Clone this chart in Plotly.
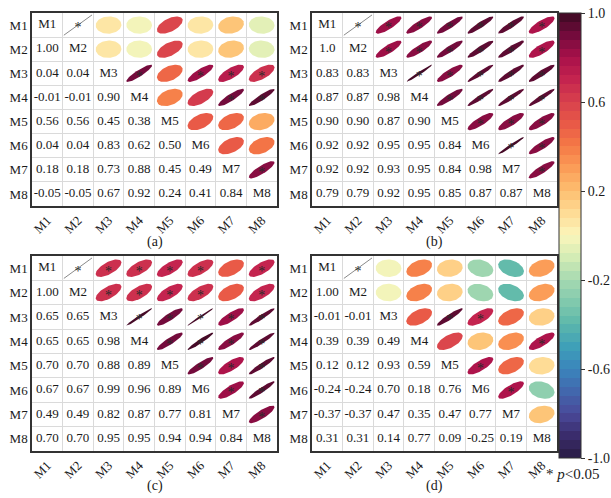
import numpy as np
import plotly.graph_objects as go
from plotly.colors import sample_colorscale

labels = ["M1", "M2", "M3", "M4", "M5", "M6", "M7", "M8"]

# lower-triangle values (row i, columns 0..i-1), as printed
a_lower = [[], ["1.00"], ["0.04", "0.04"], ["-0.01", "-0.01", "0.90"],
           ["0.56", "0.56", "0.45", "0.38"], ["0.04", "0.04", "0.83", "0.62", "0.50"],
           ["0.18", "0.18", "0.73", "0.88", "0.45", "0.49"],
           ["-0.05", "-0.05", "0.67", "0.92", "0.24", "0.41", "0.84"]]
b_lower = [[], ["1.0"], ["0.83", "0.83"], ["0.87", "0.87", "0.98"],
           ["0.90", "0.90", "0.87", "0.90"], ["0.92", "0.92", "0.95", "0.95", "0.84"],
           ["0.92", "0.92", "0.93", "0.95", "0.84", "0.98"],
           ["0.79", "0.79", "0.92", "0.95", "0.85", "0.87", "0.87"]]
c_lower = [[], ["1.00"], ["0.65", "0.65"], ["0.65", "0.65", "0.98"],
           ["0.70", "0.70", "0.88", "0.89"], ["0.67", "0.67", "0.99", "0.96", "0.89"],
           ["0.49", "0.49", "0.82", "0.87", "0.77", "0.81"],
           ["0.70", "0.70", "0.95", "0.95", "0.94", "0.94", "0.84"]]
d_lower = [[], ["1.00"], ["-0.01", "-0.01"], ["0.39", "0.39", "0.49"],
           ["0.12", "0.12", "0.93", "0.59"], ["-0.24", "-0.24", "0.70", "0.18", "0.76"],
           ["-0.37", "-0.37", "0.47", "0.35", "0.47", "0.77"],
           ["0.31", "0.31", "0.14", "0.77", "0.09", "-0.25", "0.19"]]

# significant pairs (p<0.05)
a_sig = [("M1", "M2"), ("M3", "M4"), ("M3", "M6"), ("M3", "M7"), ("M3", "M8"),
         ("M4", "M7"), ("M4", "M8"), ("M7", "M8")]
b_sig = [(labels[i], labels[j]) for i in range(8) for j in range(i + 1, 8)]
c_sig = [(labels[i], labels[j]) for i in range(8) for j in range(i + 1, 8)
         if (labels[i], labels[j]) not in [("M1", "M7"), ("M2", "M7")]]
d_sig = [("M1", "M2"), ("M3", "M5"), ("M3", "M6"), ("M4", "M8"), ("M5", "M6"), ("M6", "M7")]

panel_names = ["(a)", "(b)", "(c)", "(d)"]
cbar_ticks = [-1.0, -0.6, -0.2, 0.2, 0.6, 1.0]

# continuous colour definition (value -> colour)
stops = [(-1.0, "#2a1c44"), (-0.9, "#3a2c6c"), (-0.8, "#4a4a9a"), (-0.7, "#4267ad"),
         (-0.6, "#3a85bc"), (-0.5, "#3fa0b8"), (-0.4, "#5cb7ab"), (-0.3, "#80c9ad"),
         (-0.2, "#a6d9b1"), (-0.1, "#d3ecb5"), (0.0, "#fbf6bb"), (0.1, "#fedc96"),
         (0.2, "#fdbf70"), (0.3, "#fb9d58"), (0.4, "#f57a46"), (0.5, "#e95a47"),
         (0.6, "#d8414d"), (0.7, "#c4244f"), (0.8, "#a8104a"), (0.9, "#740b3c"),
         (1.0, "#3a0a22")]
cont_scale = [[(v + 1) / 2, c] for v, c in stops]
NB = 50
band_cols = sample_colorscale(cont_scale, [(k + 0.5) / NB for k in range(NB)])
disc_scale = []
for k in range(NB):
    disc_scale.append([k / NB, band_cols[k]])
    disc_scale.append([(k + 1) / NB, band_cols[k]])


def colour(r):
    k = min(int((r + 1) / 2 * NB), NB - 1)
    return band_cols[max(k, 0)]


W, H = 611, 498
boxes = [(32, 277, 13, 206), (312, 557, 13, 206), (32, 277, 256, 451), (312, 557, 256, 451)]
panels = [(a_lower, a_sig), (b_lower, b_sig), (c_lower, c_sig), (d_lower, d_sig)]

fig = go.Figure()
SX, SY = 0.42, 0.36
t = np.linspace(0, 2 * np.pi, 73)
FONT = "Liberation Serif"

for p, ((lower, sig), (l, r_, t_, b_)) in enumerate(zip(panels, boxes)):
    ax = "" if p == 0 else str(p + 1)
    xa, ya = "x" + ax, "y" + ax
    # ellipses (upper triangle)
    for i in range(8):
        for j in range(i + 1, 8):
            rv = float(lower[j][i])
            ci, cj = i + 1, j + 1
            if abs(rv) >= 0.999:
                fig.add_trace(go.Scatter(x=[cj - 0.46, cj + 0.46],
                                         y=[ci + 0.42 * np.sign(rv), ci - 0.42 * np.sign(rv)],
                                         mode="lines", line=dict(color="#8a8a8a", width=1),
                                         xaxis=xa, yaxis=ya, showlegend=False, hoverinfo="skip"))
            else:
                A, B = np.sqrt(1 + rv), np.sqrt(1 - rv)
                u = (A * np.cos(t) + B * np.sin(t)) / np.sqrt(2)
                v = (A * np.cos(t) - B * np.sin(t)) / np.sqrt(2)
                fig.add_trace(go.Scatter(x=cj + SX * u, y=ci - SY * v, mode="lines", fill="toself",
                                         fillcolor=colour(rv), line=dict(width=0, color=colour(rv)),
                                         xaxis=xa, yaxis=ya, showlegend=False, hoverinfo="skip"))
    # stars
    sx_, sy_ = [], []
    for (m1, m2) in sig:
        sx_.append(labels.index(m2) + 1)
        sy_.append(labels.index(m1) + 1 + 0.16)
    fig.add_trace(go.Scatter(x=sx_, y=sy_, mode="text", text=["*"] * len(sx_),
                             textfont=dict(family=FONT, size=14, color="#2a2a2a"),
                             xaxis=xa, yaxis=ya, showlegend=False, hoverinfo="skip"))
    # lower values + diagonal labels
    tx, ty, tt = [], [], []
    for i in range(8):
        for j, s in enumerate(lower[i]):
            tx.append(j + 1); ty.append(i + 1); tt.append(s)
        tx.append(i + 1); ty.append(i + 1); tt.append(labels[i])
    fig.add_trace(go.Scatter(x=tx, y=ty, mode="text", text=tt,
                             textfont=dict(family=FONT, size=13, color="#1a1a1a"),
                             xaxis=xa, yaxis=ya, showlegend=False, hoverinfo="skip"))
    common = dict(showline=True, mirror=True, linecolor="#333333", linewidth=1.5,
                  zeroline=False, showgrid=False, ticks="",
                  tickfont=dict(family=FONT, size=13, color="#1a1a1a"),
                  minor=dict(tick0=0.5, dtick=1, showgrid=True, gridcolor="#dadada", gridwidth=1, ticks=""))
    fig.layout["xaxis" + ax] = dict(domain=[l / W, r_ / W], range=[0.5, 8.5], anchor=ya,
                                    tickmode="array", tickvals=list(range(1, 9)), ticktext=labels,
                                    tickangle=-45, **common)
    fig.layout["yaxis" + ax] = dict(domain=[1 - b_ / H, 1 - t_ / H], range=[8.5, 0.5], anchor=xa,
                                    tickmode="array", tickvals=list(range(1, 9)), ticktext=labels,
                                    **common)
    fig.add_annotation(x=(l + r_) / 2 / W, y=1 - (242 if p < 2 else 486) / H, xref="paper", yref="paper",
                       text=panel_names[p], showarrow=False, xanchor="center", yanchor="middle",
                       font=dict(family=FONT, size=14, color="#1a1a1a"))

# colour bar
fig.add_trace(go.Scatter(x=[None], y=[None], mode="markers", showlegend=False, hoverinfo="skip",
                         marker=dict(color=[0], cmin=-1, cmax=1, colorscale=disc_scale, showscale=True,
                                     colorbar=dict(x=559 / W, xanchor="left", y=1 - 13 / H, yanchor="top",
                                                   len=445 / H, lenmode="fraction", thickness=22,
                                                   thicknessmode="pixels", outlinewidth=1, outlinecolor="#333333",
                                                   tickmode="array", tickvals=cbar_ticks,
                                                   ticktext=[f"{v:.1f}" for v in cbar_ticks],
                                                   ticks="outside", ticklen=4, tickcolor="#333333",
                                                   tickfont=dict(family=FONT, size=14, color="#1a1a1a"),
                                                   xpad=0, ypad=0))))
fig.add_annotation(x=544 / W, y=1 - 474 / H, xref="paper", yref="paper", text="* <i>p</i><0.05",
                   showarrow=False, xanchor="left", yanchor="middle",
                   font=dict(family=FONT, size=15, color="#1a1a1a"))

fig.update_layout(width=W, height=H, margin=dict(l=0, r=0, t=0, b=0),
                  paper_bgcolor="white", plot_bgcolor="white")
fig.write_html("out.html")
